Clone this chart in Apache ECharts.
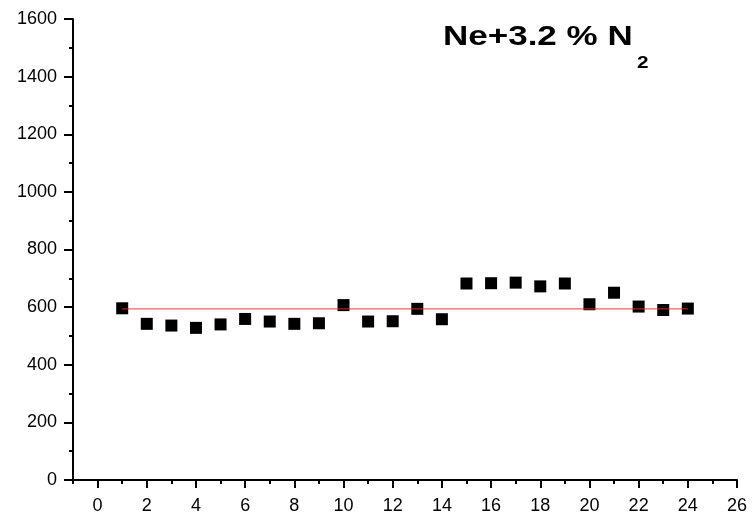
<!DOCTYPE html>
<html>
<head>
<meta charset="utf-8">
<script src="https://cdn.jsdelivr.net/npm/echarts@6/dist/echarts.min.js"></script>
<style>
  html, body { margin: 0; padding: 0; background: #fff; }
  #chart { width: 754px; height: 515px; }
</style>
</head>
<body>
<div id="chart"></div>
<script>
// Measurement index and measured values
const pointIndex = [1, 2, 3, 4, 5, 6, 7, 8, 9, 10, 11, 12,
                    13, 14, 15, 16, 17, 18, 19, 20, 21, 22, 23, 24];
const pointValue = [596, 542, 536, 528, 540, 559, 550, 542, 544, 607, 550, 551,
                    594, 558, 682, 683, 685, 672, 682, 610, 650, 602, 590, 595];
// Average level, drawn across the measured range
const meanLevel = 594;
const meanRange = [1, 24];
// Axis ticks
const xMajorTicks = [0, 2, 4, 6, 8, 10, 12, 14, 16, 18, 20, 22, 24, 26];
const xMinorTicks = [-1, 1, 3, 5, 7, 9, 11, 13, 15, 17, 19, 21, 23, 25];

const FONT = 'Arial';
const chart = echarts.init(document.getElementById('chart'), null, { renderer: 'canvas' });

const baseX = {
  type: 'value', min: -1, max: 26, gridIndex: 0, position: 'bottom',
  splitLine: { show: false }
};

chart.setOption({
  animation: false,
  backgroundColor: '#ffffff',
  grid: { left: 73, right: 17, top: 19, bottom: 34 },
  xAxis: [
    Object.assign({}, baseX, {
      axisLine: { show: true, onZero: false, lineStyle: { color: '#000', width: 2 } },
      axisTick: { show: true, customValues: xMajorTicks, length: 8,
                  lineStyle: { color: '#000', width: 2 } },
      axisLabel: { show: true, customValues: xMajorTicks, margin: 17,
                   color: '#000', fontSize: 18, fontFamily: FONT }
    }),
    Object.assign({}, baseX, {
      axisLine: { show: false, onZero: false },
      axisTick: { show: true, customValues: xMinorTicks, length: 4,
                  lineStyle: { color: '#000', width: 2 } },
      axisLabel: { show: false }
    })
  ],
  yAxis: {
    type: 'value', min: 0, max: 1600, interval: 200,
    axisLine: { show: true, onZero: false, lineStyle: { color: '#000', width: 2 } },
    axisTick: { show: true, length: 9, lineStyle: { color: '#000', width: 2 } },
    minorTick: { show: true, splitNumber: 2, length: 4, lineStyle: { color: '#000', width: 2 } },
    axisLabel: { color: '#000', fontSize: 18, fontFamily: FONT, margin: 16,
                 formatter: v => String(v) },
    splitLine: { show: false }
  },
  graphic: [
    {
      type: 'text', x: 443, y: 23, scaleX: 1.25,
      style: { text: 'Ne+3.2 % N', fontSize: 28, fontWeight: 'bold',
               fontFamily: FONT, fill: '#000', verticalAlign: 'top' }
    },
    {
      type: 'text', x: 637, y: 56, scaleX: 1.3,
      style: { text: '2', fontSize: 16, fontWeight: 'bold',
               fontFamily: FONT, fill: '#000', verticalAlign: 'top' }
    }
  ],
  series: [
    {
      type: 'scatter',
      xAxisIndex: 0,
      symbol: 'rect',
      symbolSize: 12,
      itemStyle: { color: '#000', opacity: 1 },
      data: pointIndex.map((x, i) => [x, pointValue[i]]),
      z: 2
    },
    {
      type: 'line',
      xAxisIndex: 0,
      symbol: 'none',
      lineStyle: { color: 'rgba(240,40,40,0.75)', width: 1.3 },
      data: meanRange.map(x => [x, meanLevel]),
      z: 3
    }
  ]
});
</script>
</body>
</html>
